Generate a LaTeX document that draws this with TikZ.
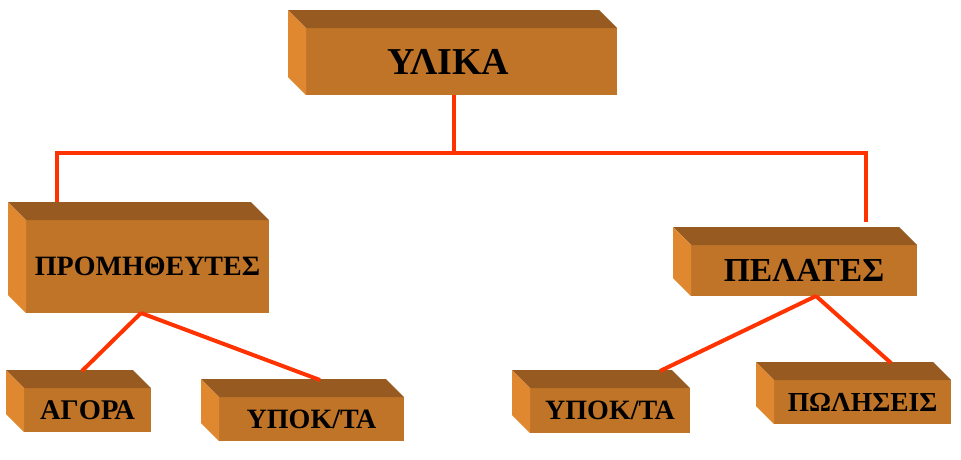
\documentclass[tikz,border=0pt]{standalone}
\usepackage{fontspec}
\setmainfont{Liberation Serif}
\usepackage{xcolor}
\usepackage{tikz}
\usetikzlibrary{calc}
\definecolor{brickfront}{RGB}{192, 116, 40}
\definecolor{bricktop}{RGB}{151, 91, 34}
\definecolor{brickside}{RGB}{224, 136, 48}
\definecolor{linkred}{RGB}{255, 51, 0}
\tikzset{
    brick/.style={rectangle, fill=brickfront, inner sep=0pt, outer sep=0pt,
                  text centered, font=\bfseries\fontsize{#1}{#1}\selectfont},
    conn/.style={line width=4pt, color=linkred},
}

\begin{document}
\begin{tikzpicture}[x=1pt, y=-1pt]
    \useasboundingbox (0,0) rectangle (961,459);

    % front faces
    \node[brick=38, minimum width=311pt, minimum height=67pt] (ylika) at (461.5,61.5) {ΥΛΙΚΑ\hspace*{26pt}};
    \node[brick=28, minimum width=243pt, minimum height=93pt] (prom) at (147.5,266.5) {ΠΡΟΜΗΘΕΥΤΕΣ};
    \node[brick=33.6, minimum width=226pt, minimum height=51pt] (pel) at (804,270.5) {ΠΕΛΑΤΕΣ};
    \node[brick=28.5, minimum width=127pt, minimum height=44pt] (agora) at (87.5,410) {ΑΓΟΡΑ};
    \node[brick=28, minimum width=185pt, minimum height=44pt] (ypokA) at (311.5,419) {ΥΠΟΚ/ΤΑ};
    \node[brick=28, minimum width=160pt, minimum height=45pt] (ypokB) at (610,410.5) {ΥΠΟΚ/ΤΑ};
    \node[brick=27.5, minimum width=177pt, minimum height=44pt] (polh) at (862.5,402) {ΠΩΛΗΣΕΙΣ};

    % top and side faces
    \foreach \n in {ylika,prom,pel,agora,ypokA,ypokB,polh} {
        \fill[bricktop] (\n.north west) -- ++(-18,-18) -- ($(\n.north east)+(-18,-18)$) -- (\n.north east) -- cycle;
        \fill[brickside] (\n.north west) -- ++(-18,-18) -- ($(\n.south west)+(-18,-18)$) -- (\n.south west) -- cycle;
    }

    % tree
    \coordinate (hub) at ($(ylika.south)+(-7.5,58)$);
    \draw[conn] ([xshift=-7.5pt]ylika.south) -- (hub);
    \draw[conn] (hub) -| ([xshift=-90.5pt, yshift=18pt]prom.north);
    \draw[conn] (hub) -| ([xshift=62pt, yshift=23pt]pel.north);
    \draw[conn] ([xshift=-6.5pt]prom.south) -- ([xshift=-5.5pt, yshift=17pt]agora.north);
    \draw[conn] ([xshift=-6.5pt]prom.south) -- ([xshift=8.5pt, yshift=17pt]ypokA.north);
    \draw[conn] ([xshift=12pt]pel.south) -- ([xshift=50pt, yshift=17pt]ypokB.north);
    \draw[conn] ([xshift=12pt]pel.south) -- ([xshift=28.5pt, yshift=17pt]polh.north);
\end{tikzpicture}
\end{document}
